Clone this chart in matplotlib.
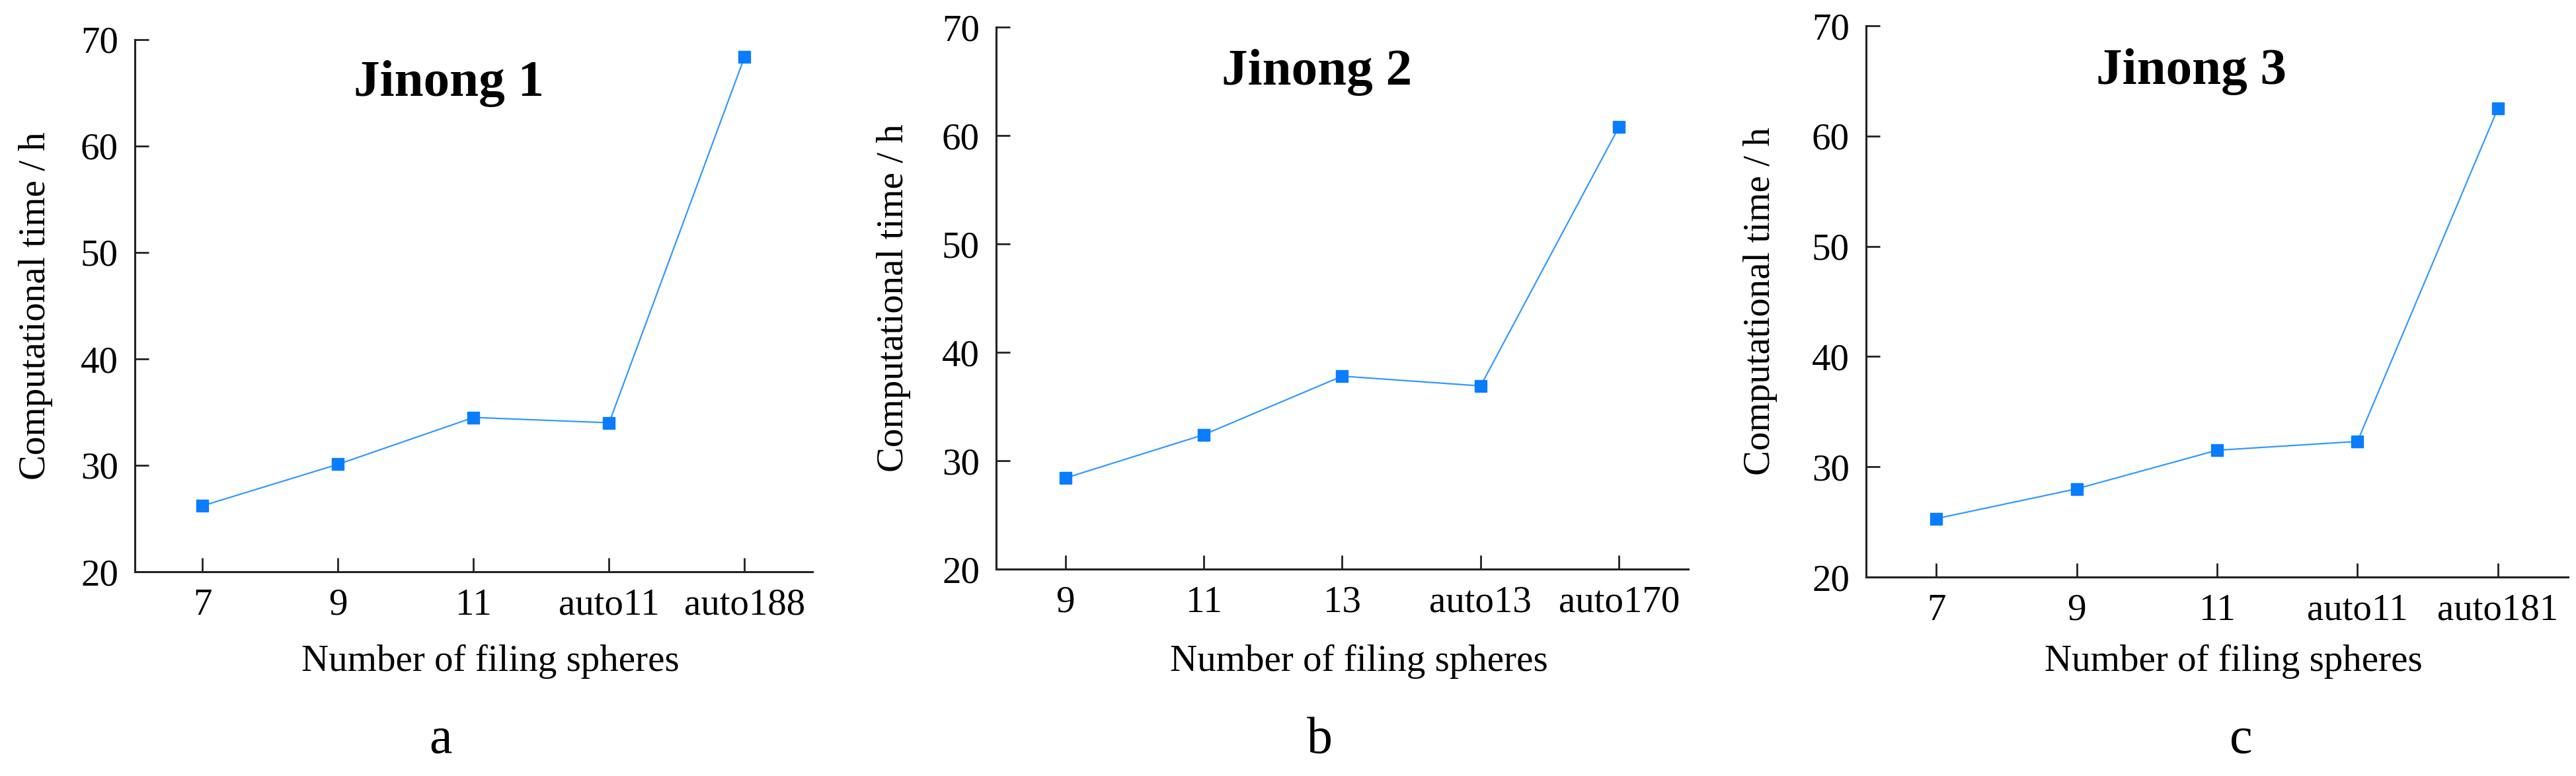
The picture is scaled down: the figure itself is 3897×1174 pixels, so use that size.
import matplotlib
matplotlib.use("Agg")
import matplotlib.pyplot as plt

titles = ["Jinong 1", "Jinong 2", "Jinong 3"]
letters = ["a", "b", "c"]
cats_a = ["7", "9", "11", "auto11", "auto188"]
vals_a = [26.2, 30.1, 34.5, 34.0, 68.4]
cats_b = ["9", "11", "13", "auto13", "auto170"]
vals_b = [28.4, 32.4, 37.8, 36.9, 60.8]
cats_c = ["7", "9", "11", "auto11", "auto181"]
vals_c = [25.3, 28.0, 31.5, 32.3, 62.5]
yticks = [20, 30, 40, 50, 60, 70]

plt.rcParams['font.family'] = ['Liberation Serif', 'DejaVu Serif']
W, H = 3898, 1174
fig = plt.figure(figsize=(W/100, H/100), dpi=100)

# axes boxes in pixels: left, right, top, bottom
boxes = [(204, 1229, 60, 865), (1507, 2554, 41, 861), (2823, 3885, 39, 873)]
ylab_x = [54, 1352, 2663]
letter_x = [667, 1996, 3390]
data = [(cats_a, vals_a), (cats_b, vals_b), (cats_c, vals_c)]

for i, ((l, r, t, b), (cats, vals)) in enumerate(zip(boxes, data)):
    ax = fig.add_axes([l/W, 1-b/H, (r-l)/W, (b-t)/H])
    x = list(range(len(cats)))
    ax.plot(x, vals, color='#3399ff', lw=1.6, marker='s', ms=13,
            mfc='#0a7cff', mec='#0a7cff')
    ax.set_xlim(-0.5, 4.5)
    ax.set_ylim(20, 70)
    ax.set_yticks(yticks)
    ax.set_xticks(x)
    ax.set_xticklabels(cats)
    for s in ['top', 'right']:
        ax.spines[s].set_visible(False)
    for s in ['left', 'bottom']:
        ax.spines[s].set_linewidth(2.2)
        ax.spines[s].set_color('#222222')
    ax.tick_params(direction='in', length=15, width=2.0, labelsize=41,
                   pad=18, colors='#222222', labelcolor='black')
    ax.text(0.463, 0.917, titles[i], transform=ax.transAxes, ha='center',
            va='center', fontsize=57, fontweight='bold')
    cx = (l + r) / 2 + 25
    fig.text(cx/W, 1-1001/H, "Number of filing spheres", ha='center',
             va='center', fontsize=41)
    fig.text(ylab_x[i]/W, 1-(t+b)/2/H, "Computational time / h", ha='center',
             va='center', rotation=90, fontsize=41)
    fig.text(letter_x[i]/W, 1-1120/H, letters[i], ha='center', va='center',
             fontsize=56)

fig.savefig("out.png", dpi=100, facecolor='white')
